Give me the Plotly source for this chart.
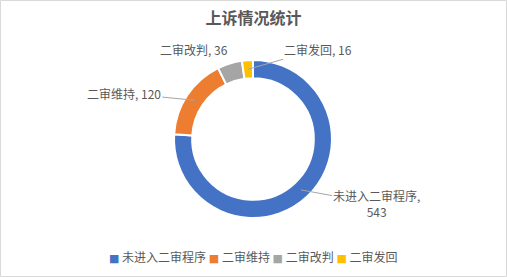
import math
import plotly.graph_objects as go

labels = ["未进入二审程序", "二审维持", "二审改判", "二审发回"]
values = [543, 120, 36, 16]
colors = ["#4472C4", "#ED7D31", "#A5A5A5", "#FFC000"]
title_text = "上诉情况统计"

W, H = 507, 277
cx, cy, R = 253, 139, 79
hole = 0.77
font_family = "Noto Sans CJK SC, Microsoft YaHei, sans-serif"
text_color = "#595959"

fig = go.Figure(go.Pie(
    labels=labels, values=values, sort=False, direction="clockwise", rotation=0,
    hole=hole, textinfo="none", hoverinfo="label+value", showlegend=False,
    marker=dict(colors=colors, line=dict(color="white", width=2)),
    domain=dict(x=[(cx - R) / W, (cx + R) / W], y=[1 - (cy + R) / H, 1 - (cy - R) / H]),
))

# label offsets (pixels) relative to the slice mid-point on the ring
offsets = [(76, 14, True), (-71, -7, True), (-38, -23, False), (70, -20, True)]
total = sum(values)
acc = 0
r_mid = R * (1 + hole) / 2
annotations = []
for lab, val, (ax, ay, line) in zip(labels, values, offsets):
    mid = (acc + val / 2) / total * 2 * math.pi
    acc += val
    px = cx + r_mid * math.sin(mid)
    py = cy - r_mid * math.cos(mid)
    txt = f"{lab}, {val}"
    if val == max(values):
        txt = f"{lab},<br>{val}"
    annotations.append(dict(
        x=px / W, y=1 - py / H, xref="paper", yref="paper",
        text=txt, showarrow=True, ax=ax, ay=ay, arrowhead=0, arrowwidth=1,
        arrowcolor="#A6A6A6" if line else "rgba(0,0,0,0)", standoff=0,
        font=dict(size=12, color=text_color, family=font_family), align="center",
    ))

# compact legend built from the same labels/colours
legend_parts = []
for lab, col in zip(labels, colors):
    legend_parts.append(
        f'<span style="color:{col};font-size:11px;font-family:DejaVu Sans">■</span> {lab}'
    )
legend_text = " ".join(legend_parts)
annotations.append(dict(
    x=0.5, y=1 - 256 / H, xref="paper", yref="paper", xanchor="center", yanchor="middle",
    text=legend_text, showarrow=False,
    font=dict(size=12, color=text_color, family=font_family),
))

fig.update_layout(
    width=W, height=H, margin=dict(l=0, r=0, t=0, b=0),
    paper_bgcolor="white", plot_bgcolor="white",
    title=dict(text=f"<b>{title_text}</b>", x=0.5, xanchor="center", y=1 - 18 / H, yanchor="middle",
               font=dict(size=16, color=text_color, family=font_family)),
    showlegend=False,
    annotations=annotations,
    shapes=[dict(type="rect", xref="paper", yref="paper", x0=0.5 / W, x1=1 - 0.5 / W,
                 y0=0.5 / H, y1=1 - 0.5 / H, line=dict(color="#D9D9D9", width=1))],
)
fig.write_html("out.html")
